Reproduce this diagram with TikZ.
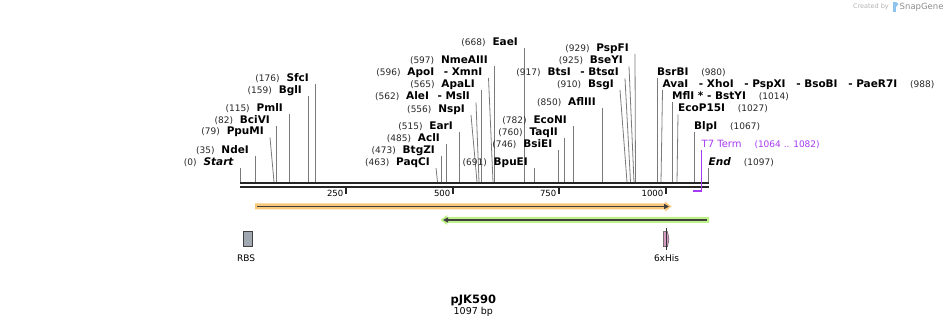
\documentclass[tikz,border=0pt]{standalone}
\usepackage{fontspec}
\setmainfont{DejaVu Sans}
\usepackage{tikz}
\usetikzlibrary{positioning, arrows.meta, calc}
\definecolor{mLine}{HTML}{7A7A7A}
\definecolor{mBack}{HTML}{262626}
\definecolor{mTerm}{HTML}{A63AF2}
\definecolor{mOrange}{HTML}{F8C87A}
\definecolor{mGreen}{HTML}{BDF28A}
\definecolor{mArrow}{HTML}{3F3F3F}
\definecolor{mRbs}{HTML}{A2A8B2}
\definecolor{mHis}{HTML}{D49CC0}
\definecolor{mLogo}{HTML}{8EC3EE}

% cut site labelled on the left: id, position, enzyme, line top x, label y, cut x
\newcommand{\cutL}[6]{%
  \node[enz, anchor=base east] (#1) at (#4-6, #5+3.5) {#3};
  \node[bpnum, anchor=base east] (#1-p) at ([xshift=-6.5pt]#1.base west) {(#2)};
  \coordinate (#1-c) at (#6, 182);
  \draw[cut] ([xshift=6pt, yshift=-2.5pt]#1.base east) -- (#1-c);
}
% cut site labelled on the right
\newcommand{\cutR}[6]{%
  \node[enz, anchor=base west] (#1) at (#4, #5+3.5) {#3};
  \node[bpnum, anchor=base west] (#1-p) at ([xshift=12.5pt]#1.base east) {(#2)};
  \coordinate (#1-c) at (#6, 182);
  \draw[cut] ([yshift=-2.5pt]#1.base west) -- (#1-c);
}

\begin{document}
\begin{tikzpicture}[x=1pt, y=-1pt,
  enz/.style={inner sep=0pt, font=\fontsize{10.5}{12}\selectfont\bfseries},
  bpnum/.style={inner sep=0pt, font=\fontsize{9}{10}\selectfont, text=black!85},
  cut/.style={draw=mLine, line width=0.8pt},
  feat/.style={inner sep=0pt, font=\fontsize{9}{11}\selectfont},
  ruler/.style={inner sep=0pt, font=\fontsize{8.5}{10}\selectfont},
]
  \useasboundingbox (0,0) rectangle (949,328);

  % logo
  \node[inner sep=0pt, font=\fontsize{6.5}{8}\selectfont, text=black!30, anchor=east] (made) at (889,7) {Created by};
  \fill[mLogo] (893,2) rectangle (896,12);
  \fill[mLogo] (896,2) -- (898.5,4) -- (896,7) -- cycle;
  \node[inner sep=0pt, font=\fontsize{8.5}{10}\selectfont, text=black!45, anchor=west] (sg) at (899.5,7) {SnapGene};

  % backbone
  \draw[mBack, line width=2.4pt] (240,183) -- (708.5,183);
  \draw[mBack, line width=2.6pt] (240,187) -- (708.5,187);
  \foreach \x/\t in {346/250, 453/500, 559/750, 666/1000} {
    \draw[mBack, line width=1.4pt] (\x,188) -- (\x,194);
    \node[ruler, anchor=east] (tick-\t) at (\x-2.5,193.5) {\t};
  }

  % cut sites
  \cutL{start}{0}{\textit{Start}}{240}{162}{240}
  \cutL{ndeI}{35}{NdeI}{255}{150}{255}
  \cutL{ppuMI}{79}{PpuMI}{270}{131.5}{274}
  \cutL{bciVI}{82}{BciVI}{276}{120}{276}
  \cutL{pmlI}{115}{PmlI}{289}{108}{289}
  \cutL{bglI}{159}{BglI}{308}{90.5}{308}
  \cutL{sfcI}{176}{SfcI}{315}{78}{315}
  \cutL{paqCI}{463}{PaqCI}{436}{162}{437.5}
  \cutL{btgZI}{473}{BtgZI}{441}{150}{441}
  \cutL{aclI}{485}{AclI}{446}{138}{446}
  \cutL{earI}{515}{EarI}{459}{126.5}{459}
  \cutL{nspI}{556}{NspI}{471}{109}{477}
  \cutL{aleI}{562}{AleI\hspace{5pt} - MslI}{476}{96.5}{479}
  \cutL{apaLI}{565}{ApaLI}{481}{84}{481}
  \cutL{apoI}{596}{ApoI\hspace{6pt} - XmnI}{488.5}{72}{493}
  \cutL{nmeAIII}{597}{NmeAIII}{494}{60}{494}
  \cutL{eaeI}{668}{EaeI}{524}{42.5}{524}
  \cutL{bpuEI}{691}{BpuEI}{534}{162}{534}
  \cutL{bsiEI}{746}{BsiEI}{558.5}{144}{558.5}
  \cutL{taqII}{760}{TaqII}{564}{132}{564}
  \cutL{ecoNI}{782}{EcoNI}{573}{120}{573}
  \cutL{aflIII}{850}{AflIII}{602}{102}{602}
  \cutL{bsgI}{910}{BsgI}{620}{84}{627}
  \cutL{btsI}{917}{BtsI\hspace{6pt} - BtsαI}{625}{72.5}{630.5}
  \cutL{bseYI}{925}{BseYI}{629}{60.5}{634}
  \cutL{pspFI}{929}{PspFI}{635}{48}{635.5}
  \cutR{bsrBI}{980}{BsrBI}{657}{72.5}{657}
  \cutR{avaI}{988}{AvaI\hspace{7pt} - XhoI\hspace{7pt} - PspXI\hspace{7pt} - BsoBI\hspace{7pt} - PaeR7I}{662.5}{84}{661}
  \cutR{mflI}{1014}{MflI * - BstYI}{672}{96}{672}
  \cutR{ecoP15I}{1027}{EcoP15I}{678}{108.5}{677}
  \cutR{blpI}{1067}{BlpI}{694}{126.5}{694}
  \cutR{end}{1097}{\textit{End}}{708.5}{162}{708.5}

  % T7 terminator
  \node[inner sep=0pt, font=\fontsize{10}{12}\selectfont, text=mTerm, anchor=base west] (t7) at (701.5,147.8) {T7 Term};
  \node[bpnum, text=mTerm, anchor=base west] (t7-p) at ([xshift=12.5pt]t7.base east) {(1064 .. 1082)};
  \coordinate (t7-c) at (701.5,192);
  \draw[mTerm, line width=1pt] ([yshift=-2.5pt]t7.base west) -- (t7-c);
  \draw[mTerm, line width=2pt] (693,191.5) -- (702,191.5);

  % features
  \fill[mOrange] (255,203.5) -- (665,203.5) -- (665,201.5) -- (671.5,206.5) -- (665,211.5)
    -- (665,209.5) -- (255,209.5) -- cycle;
  \draw[mArrow, line width=1.6pt, -{Triangle[length=5pt, width=5pt]}] (257,206.5) -- (669,206.5);
  \fill[mGreen] (709,217) -- (447,217) -- (447,215) -- (440.5,220) -- (447,225)
    -- (447,223) -- (709,223) -- cycle;
  \draw[mArrow, line width=1.6pt, -{Triangle[length=5pt, width=5pt]}] (707,220) -- (443,220);

  \node[draw=black!75, fill=mRbs, minimum width=9pt, minimum height=15pt, inner sep=0pt] (rbs) at (247.8,239.2) {};
  \node[feat] (rbs-l) at (246,258.3) {RBS};
  \filldraw[draw=black!75, fill=mHis] (663.3,231.7) -- (667.5,231.7) -- (669,239.2) -- (667.5,246.7) -- (663.3,246.7) -- cycle;
  \coordinate (his-t) at (666.8,228.3);
  \coordinate (his-b) at (666.8,250);
  \draw[black!80, line width=0.8pt] (his-t) -- (his-b);
  \node[feat] (his-l) at (666.5,258.3) {6xHis};

  % title
  \node[inner sep=0pt, font=\fontsize{11.5}{13}\selectfont\bfseries] (name) at (473.3,300) {pJK590};
  \node[inner sep=0pt, font=\fontsize{9.5}{11}\selectfont] (size) at (473.3,312.3) {1097 bp};
\end{tikzpicture}
\end{document}
